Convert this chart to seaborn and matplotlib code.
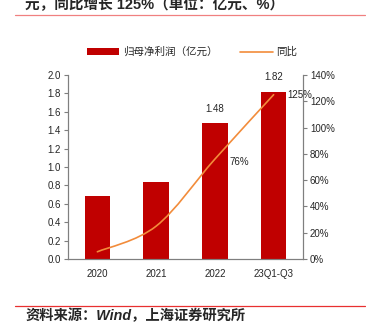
import numpy as np
import matplotlib
matplotlib.use("Agg")
import matplotlib.pyplot as plt
from matplotlib.path import Path
from matplotlib.patches import PathPatch, Patch
from matplotlib.lines import Line2D
import seaborn as sns

categories = ["2020", "2021", "2022", "23Q1-Q3"]
net_profit = [0.68, 0.84, 1.48, 1.82]          # 归母净利润（亿元）
yoy_growth = [5.5, 25.0, 76.0, 125.0]           # 同比（%）
bar_labels = {2: "1.48", 3: "1.82"}
line_labels = {2: "76%", 3: "125%"}
left_ticks = [0.0, 0.2, 0.4, 0.6, 0.8, 1.0, 1.2, 1.4, 1.6, 1.8, 2.0]
right_ticks = [0, 20, 40, 60, 80, 100, 120, 140]

sns.set_theme(style="white")
plt.rcParams["font.family"] = ["Liberation Sans", "Noto Sans CJK SC", "DejaVu Sans"]
plt.rcParams["axes.unicode_minus"] = False

BAR = "#C00000"
LINE = "#F28C3B"
SPINE = "#7F7F7F"

W, H = 366, 322
fig = plt.figure(figsize=(W / 100, H / 100), dpi=100)
ax = fig.add_axes([68 / W, 1 - 259 / H, (303 - 68) / W, (259 - 75) / H])

sns.barplot(x=categories, y=net_profit, color=BAR, width=0.43, ax=ax,
            saturation=1, edgecolor="none")
ax.set_xlim(-0.5, 3.5)
ax.set_ylim(0, 2.0)
ax.set_yticks(left_ticks)
ax.set_yticklabels([f"{v:.1f}" for v in left_ticks], fontsize=7)
ax.set_xlabel("")
ax.set_ylabel("")
ax.tick_params(axis="x", which="major", length=0, labelsize=7, pad=7)
ax.set_xticks(np.arange(-0.5, 4.0, 1.0), minor=True)
ax.tick_params(axis="x", which="minor", length=3, color=SPINE, width=0.8, direction="out")
ax.tick_params(axis="y", length=3, color=SPINE, width=0.8, direction="out", pad=2, left=True)
for side in ["left", "right", "bottom"]:
    ax.spines[side].set_color(SPINE)
    ax.spines[side].set_linewidth(0.8)
ax.spines["top"].set_visible(False)

for i, txt in bar_labels.items():
    ax.text(i, net_profit[i] + 0.1, txt, ha="center", va="bottom", fontsize=7)

ax2 = ax.twinx()
ax2.set_ylim(0, 140)
ax2.set_yticks(right_ticks)
ax2.set_yticklabels([f"{v}%" for v in right_ticks], fontsize=7)
ax2.tick_params(axis="y", length=3, color=SPINE, width=0.8, direction="out", pad=2, right=True)
for side in ["left", "right", "bottom"]:
    ax2.spines[side].set_color(SPINE)
    ax2.spines[side].set_linewidth(0.8)
ax2.spines["top"].set_visible(False)
ax2.grid(False)

# smoothed growth line: cubic Bezier segments through the data points
xs = np.arange(len(yoy_growth), dtype=float)
ys = np.array(yoy_growth, dtype=float)
verts = [(xs[0], ys[0])]
codes = [Path.MOVETO]
t = 1 / 6
for i in range(len(xs) - 1):
    p0 = np.array([xs[max(i - 1, 0)], ys[max(i - 1, 0)]])
    p1 = np.array([xs[i], ys[i]])
    p2 = np.array([xs[i + 1], ys[i + 1]])
    p3 = np.array([xs[min(i + 2, len(xs) - 1)], ys[min(i + 2, len(xs) - 1)]])
    c1 = p1 + (p2 - p0) * t
    c2 = p2 - (p3 - p1) * t
    verts += [tuple(c1), tuple(c2), tuple(p2)]
    codes += [Path.CURVE4] * 3
ax2.add_patch(PathPatch(Path(verts, codes), fill=False, edgecolor=LINE, lw=1.2,
                        capstyle="round"))

ax2.text(2.25, yoy_growth[2] - 2, line_labels[2], ha="left", va="center", fontsize=7)
ax2.text(3.23, yoy_growth[3], line_labels[3], ha="left", va="center", fontsize=7)

handles = [Patch(facecolor=BAR, edgecolor="none"),
           Line2D([0], [0], color=LINE, lw=1.2)]
fig.legend(handles, ["归母净利润（亿元）", "同比"], loc="center",
           bbox_to_anchor=(192 / W, 1 - 52 / H), ncol=2, frameon=False, fontsize=7.6,
           handlelength=3.1, handleheight=0.65, columnspacing=2.2, handletextpad=0.3)

# header and footer
fig.text(25 / W, 1 - 5 / H, "元，同比增长 125%（单位：亿元、%）", fontsize=10.5,
         fontweight="bold", ha="left", va="center")
fig.add_artist(Line2D([15 / W, 365 / W], [1 - 15 / H, 1 - 15 / H],
                      transform=fig.transFigure, color="#F08080", lw=0.9))
fig.add_artist(Line2D([15 / W, 365 / W], [1 - 306 / H, 1 - 306 / H],
                      transform=fig.transFigure, color="#E83030", lw=0.9))
fig.text(25 / W, 1 - 316 / H, "资料来源：Wind，上海证券研究所", fontsize=10.3,
         fontweight="bold", fontstyle="italic", ha="left", va="center")

fig.savefig("out.png", dpi=100)
